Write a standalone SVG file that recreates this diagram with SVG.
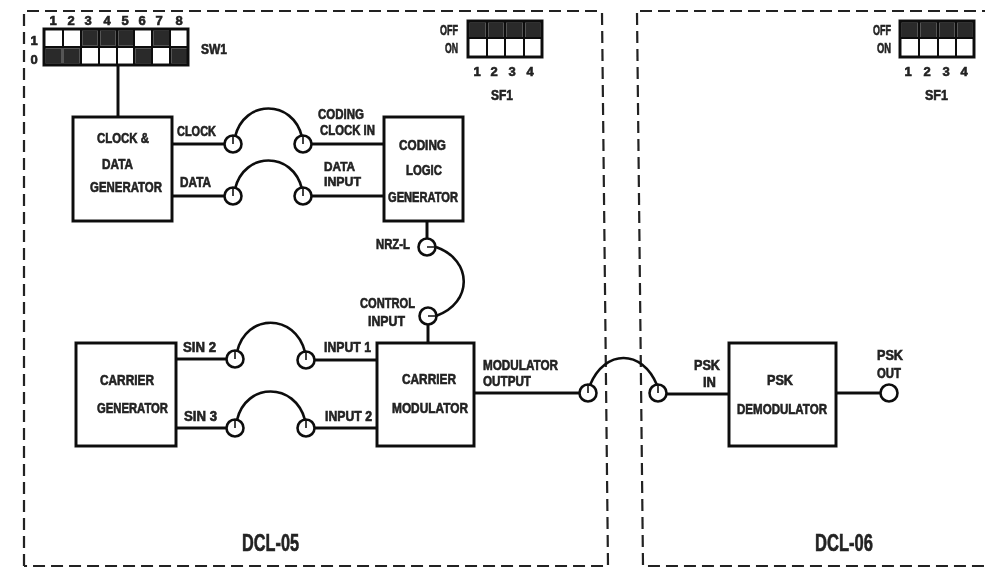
<svg xmlns="http://www.w3.org/2000/svg" width="985" height="571" viewBox="0 0 985 571">
<defs><filter id="soft" x="0" y="0" width="100%" height="100%" filterUnits="userSpaceOnUse" primitiveUnits="userSpaceOnUse"><feGaussianBlur stdDeviation="0.45"/></filter></defs>
<style>
text{font-family:"Liberation Sans",Arial,sans-serif;font-weight:700;fill:#222;stroke:#222;stroke-width:.6}
.s{font-size:14px}
.m{font-size:13px}
.n{font-size:13px;text-anchor:middle}
.b{fill:none;stroke:#111;stroke-width:3}
.w{fill:none;stroke:#111;stroke-width:3}
.j{fill:none;stroke:#111;stroke-width:2.6}
.d{fill:none;stroke:#222;stroke-width:2.2;stroke-dasharray:12 6}
.g{fill:#fff;stroke:#111;stroke-width:2.6}
.i{fill:none;stroke:#111;stroke-width:1.6}
.c{fill:#2a2a2a}
.l{fill:none;stroke:#111;stroke-width:2}
</style>
<rect width="985" height="571" fill="#fff"/>
<g filter="url(#soft)">
<g id="panels">
<path class="d" d="M24 566V11H603"/>
<path class="d" d="M602 13L608 566H24"/>
<path class="d" d="M637 13L643 566H985"/>
<path class="d" d="M640 11H985"/>
</g>
<g id="connectors">
<path class="w" d="M118 65V117"/>
<path class="w" d="M172 144H225M312 144H384"/>
<path class="w" d="M172 196H225M312 196H384"/>
<path class="j" d="M235 137C244 99 293 99 302 137"/>
<path class="j" d="M235 189C244 151 293 151 302 189"/>
<path class="w" d="M427 221V238M428 325V343"/>
<path class="j" d="M436 247C473 260 473 303 436 316"/>
<path class="w" d="M176 359H226M315 360H377"/>
<path class="w" d="M176 428H226M315 428H377"/>
<path class="j" d="M237 352C246 313 295 313 305 352"/>
<path class="j" d="M237 420C246 382 295 382 305 420"/>
<path class="w" d="M474 393H579M667 394H729"/>
<path class="j" d="M590 385C605 349 642 349 657 385"/>
<path class="w" d="M836 393H880"/>
</g>
<g id="sw1">
<path d="M44 47h36v18h-36zM80 29h54v18h-54zM134 47h18v18h-18zM152 29h18v18h-18zM170 47h18v18h-18z" fill="#555"/>
<path class="c" d="M46 49h15v14h-15zM64 49h15v14h-15zM83 31h14v14h-14zM101 31h14v14h-14zM119 31h14v14h-14zM136 49h15v14h-15zM154 31h15v14h-15zM172 49h15v14h-15z"/>
<rect class="b" x="44" y="29" width="144" height="36"/>
<path class="l" d="M44 47H188M63 29V47M81 29V65M99 29V65M117 29V65M134 29V65M152 29V65M170 29V65"/>
<text class="n" x="53" y="25">1</text><text class="n" x="71" y="25">2</text><text class="n" x="88" y="25">3</text><text class="n" x="107" y="25">4</text><text class="n" x="125" y="25">5</text><text class="n" x="142" y="25">6</text><text class="n" x="159" y="25">7</text><text class="n" x="179" y="25">8</text><text class="n" x="34" y="45">1</text><text class="n" x="34" y="64">0</text>
<text class="s" x="201" y="54" textLength="26" lengthAdjust="spacingAndGlyphs">SW1</text>
</g>
<g id="sf1-a">
<path d="M468 21h74v17h-74z" fill="#555"/>
<path class="c" d="M470 23h15v14h-15zM489 23h14v14h-14zM507 23h15v14h-15zM526 23h14v14h-14z"/>
<rect class="b" x="468" y="21" width="74" height="36"/>
<path class="l" d="M468 38H542M487 21V57M505 21V57M524 21V57"/>
<text x="440" y="35" font-size="14" textLength="18" lengthAdjust="spacingAndGlyphs">OFF</text><text x="445" y="53" font-size="14" textLength="13" lengthAdjust="spacingAndGlyphs">ON</text>
<text class="n" x="477" y="76">1</text><text class="n" x="494" y="76">2</text><text class="n" x="512" y="76">3</text><text class="n" x="530" y="76">4</text>
<text x="491" y="100" font-size="15" textLength="22" lengthAdjust="spacingAndGlyphs">SF1</text>
</g>
<g id="sf1-b">
<path d="M900 21h74v17h-74z" fill="#555"/>
<path class="c" d="M902 23h15v14h-15zM921 23h15v14h-15zM940 23h14v14h-14zM958 23h14v14h-14z"/>
<rect class="b" x="900" y="21" width="74" height="36"/>
<path class="l" d="M900 38H974M919 21V57M938 21V57M956 21V57"/>
<text x="873" y="35" font-size="14" textLength="18" lengthAdjust="spacingAndGlyphs">OFF</text><text x="877" y="53" font-size="14" textLength="14" lengthAdjust="spacingAndGlyphs">ON</text>
<text class="n" x="908" y="76">1</text><text class="n" x="927" y="76">2</text><text class="n" x="946" y="76">3</text><text class="n" x="964" y="76">4</text>
<text x="925" y="100" font-size="15" textLength="23" lengthAdjust="spacingAndGlyphs">SF1</text>
</g>
<g id="clock-data-generator">
<rect class="b" x="73" y="117" width="99" height="104"/>
<text class="s" x="97" y="143" textLength="52" lengthAdjust="spacingAndGlyphs">CLOCK &amp;</text>
<text class="s" x="102" y="169" textLength="31" lengthAdjust="spacingAndGlyphs">DATA</text>
<text class="s" x="90" y="192" textLength="72" lengthAdjust="spacingAndGlyphs">GENERATOR</text>
</g>
<g id="coding-logic-generator">
<rect class="b" x="384" y="117" width="79" height="104"/>
<text class="s" x="399" y="150" textLength="47" lengthAdjust="spacingAndGlyphs">CODING</text>
<text class="s" x="406" y="175" textLength="36" lengthAdjust="spacingAndGlyphs">LOGIC</text>
<text class="s" x="388" y="202" textLength="70" lengthAdjust="spacingAndGlyphs">GENERATOR</text>
</g>
<g id="carrier-generator">
<rect class="b" x="76" y="343" width="100" height="103"/>
<text class="s" x="100" y="385" textLength="54" lengthAdjust="spacingAndGlyphs">CARRIER</text>
<text class="s" x="97" y="413" textLength="71" lengthAdjust="spacingAndGlyphs">GENERATOR</text>
</g>
<g id="carrier-modulator">
<rect class="b" x="377" y="343" width="97" height="103"/>
<text class="s" x="402" y="384" textLength="54" lengthAdjust="spacingAndGlyphs">CARRIER</text>
<text class="s" x="392" y="413" textLength="76" lengthAdjust="spacingAndGlyphs">MODULATOR</text>
</g>
<g id="psk-demodulator">
<rect class="b" x="729" y="343" width="107" height="103"/>
<text class="s" x="767" y="385" textLength="26" lengthAdjust="spacingAndGlyphs">PSK</text>
<text class="s" x="737" y="414" textLength="90" lengthAdjust="spacingAndGlyphs">DEMODULATOR</text>
</g>
<g id="jacks">
<circle class="g" cx="233" cy="144" r="8.5"/><circle class="g" cx="303" cy="144" r="8.5"/>
<circle class="g" cx="233" cy="196" r="8.5"/><circle class="g" cx="303" cy="196" r="8.5"/>
<circle class="g" cx="427" cy="247" r="8.5"/><circle class="g" cx="428" cy="316" r="8.5"/>
<circle class="g" cx="235" cy="359" r="8.5"/><circle class="g" cx="306" cy="360" r="8.5"/>
<circle class="g" cx="235" cy="428" r="8.5"/><circle class="g" cx="306" cy="428" r="8.5"/>
<circle class="g" cx="588" cy="393" r="8.5"/><circle class="g" cx="658" cy="393" r="8.5"/>
<circle class="g" cx="889" cy="393" r="8.5"/>
<path class="i" d="M233 136V144M303 136V144M233 188V196M303 188V196M435 247H427M436 316H428M235 351V359M306 352V360M235 420V428M306 420V428M588 385V393M658 385V393"/>
</g>
<g id="labels">
<text class="s" x="177" y="136" textLength="39" lengthAdjust="spacingAndGlyphs">CLOCK</text>
<text class="s" x="180" y="187" textLength="31" lengthAdjust="spacingAndGlyphs">DATA</text>
<text class="s" x="318" y="119" textLength="46" lengthAdjust="spacingAndGlyphs">CODING</text>
<text class="s" x="320" y="135" textLength="55" lengthAdjust="spacingAndGlyphs">CLOCK IN</text>
<text class="m" x="324" y="171" textLength="31" lengthAdjust="spacingAndGlyphs">DATA</text>
<text class="m" x="324" y="186" textLength="37" lengthAdjust="spacingAndGlyphs">INPUT</text>
<text class="s" x="376" y="249" textLength="34" lengthAdjust="spacingAndGlyphs">NRZ-L</text>
<text class="s" x="360" y="308" textLength="55" lengthAdjust="spacingAndGlyphs">CONTROL</text>
<text class="s" x="368" y="326" textLength="37" lengthAdjust="spacingAndGlyphs">INPUT</text>
<text class="s" x="183" y="352" textLength="33" lengthAdjust="spacingAndGlyphs">SIN 2</text>
<text class="s" x="184" y="421" textLength="33" lengthAdjust="spacingAndGlyphs">SIN 3</text>
<text class="s" x="324" y="352" textLength="47" lengthAdjust="spacingAndGlyphs">INPUT 1</text>
<text class="s" x="325" y="421" textLength="47" lengthAdjust="spacingAndGlyphs">INPUT 2</text>
<text class="s" x="483" y="370" textLength="75" lengthAdjust="spacingAndGlyphs">MODULATOR</text>
<text class="s" x="483" y="386" textLength="48" lengthAdjust="spacingAndGlyphs">OUTPUT</text>
<text class="s" x="694" y="370" textLength="26" lengthAdjust="spacingAndGlyphs">PSK</text>
<text class="s" x="703" y="387" textLength="13" lengthAdjust="spacingAndGlyphs">IN</text>
<text class="s" x="877" y="360" textLength="26" lengthAdjust="spacingAndGlyphs">PSK</text>
<text class="s" x="877" y="378" textLength="24" lengthAdjust="spacingAndGlyphs">OUT</text>
<text x="242" y="551" font-size="24" textLength="57" lengthAdjust="spacingAndGlyphs">DCL-05</text>
<text x="815" y="551" font-size="24" textLength="58" lengthAdjust="spacingAndGlyphs">DCL-06</text>
</g>
</g>
</svg>
